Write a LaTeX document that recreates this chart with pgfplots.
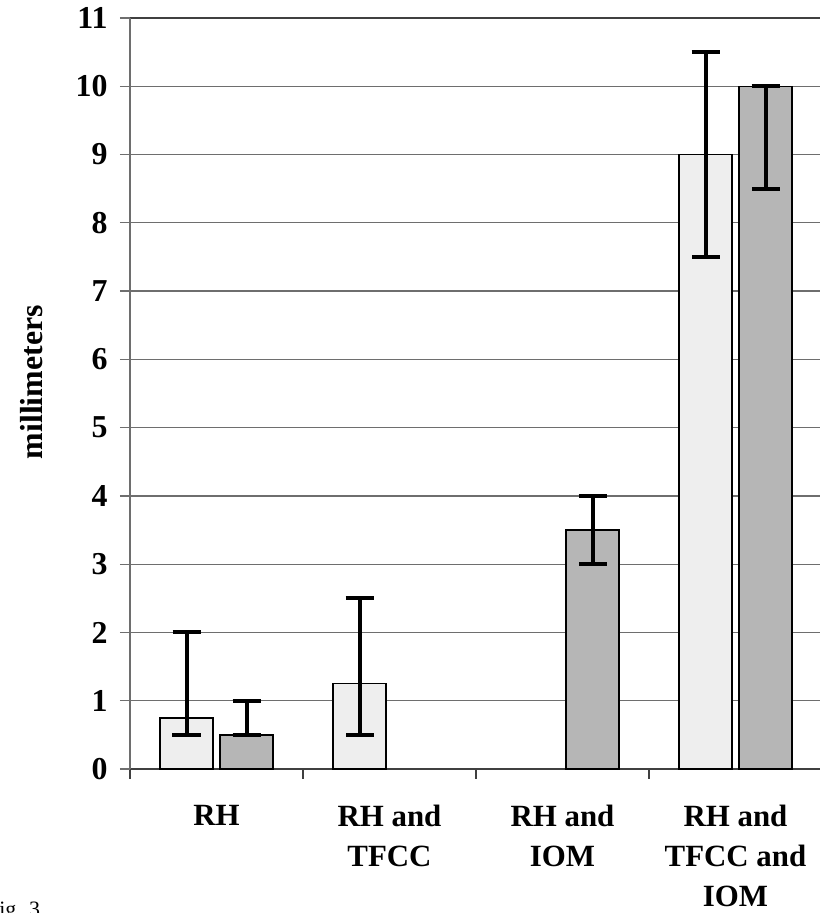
\documentclass[border=0pt]{standalone}
\usepackage{fontspec}
\setmainfont{Liberation Serif}
\usepackage{pgfplots}
\pgfplotsset{compat=1.18}
\definecolor{barlight}{HTML}{EEEEEE}
\definecolor{bardark}{HTML}{B6B6B6}
\definecolor{gridgray}{HTML}{6E6E6E}

\begin{document}
\begin{tikzpicture}
\useasboundingbox (0,0) rectangle (820bp,913bp);
\begin{axis}[
    at={(130bp,144bp)}, anchor=south west,
    scale only axis,
    width=692bp, height=751bp,
    ybar, bar width=53bp,
    xmin=0.5, xmax=4.5,
    ymin=0, ymax=11,
    ytick={0,1,...,11},
    xtick={1,2,3,4},
    xticklabels={RH, {RH and\\TFCC}, {RH and\\IOM}, {RH and\\TFCC and\\IOM}},
    minor xtick={0.5,1.5,2.5,3.5},
    major x tick style={draw=none},
    minor x tick style={draw=black!75, line width=1.2bp},
    minor tick length=10bp,
    major tick length=10bp,
    tick align=outside,
    xtick pos=bottom, ytick pos=left,
    y tick style={draw=gridgray, line width=1.2bp},
    ymajorgrids,
    grid style={draw=gridgray, line width=1.2bp},
    axis line style={-},
    separate axis lines,
    every outer x axis line/.style={draw=black!75, line width=1.2bp},
    every outer y axis line/.style={draw=gridgray, line width=1.2bp},
    /pgf/number format/assume math mode=true,
    yticklabel style={font=\fontsize{32}{38}\selectfont\bfseries, xshift=-9bp},
    xticklabel style={font=\fontsize{31}{40}\selectfont\bfseries, align=center,
        anchor=north, inner sep=0pt, yshift=-26bp},
    ylabel={millimeters},
    every axis y label/.style={at={(axis description cs:-0.126,0.515)}, rotate=90,
        anchor=base, font=\fontsize{32}{38}\selectfont\bfseries},
    clip=false,
]
\addplot[fill=barlight, draw=black, line width=1.5bp, bar shift=-30bp,
    error bars/.cd, y dir=both, y explicit,
    error bar style={line width=4bp, black},
    error mark options={rotate=90, mark size=14bp, line width=4bp, black}]
    coordinates {
    (1,0.75) += (0,1.25) -= (0,0.25)
    (2,1.25) += (0,1.25) -= (0,0.75)
    (4,9.0) += (0,1.5) -= (0,1.5)
};
\addplot[fill=bardark, draw=black, line width=1.5bp, bar shift=30bp,
    error bars/.cd, y dir=both, y explicit,
    error bar style={line width=4bp, black},
    error mark options={rotate=90, mark size=14bp, line width=4bp, black}]
    coordinates {
    (1,0.5) += (0,0.5) -= (0,0)
    (3,3.5) += (0,0.5) -= (0,0.5)
    (4,10.0) += (0,0) -= (0,1.5)
};
\end{axis}
\node[anchor=base west, inner sep=0pt, font=\fontsize{22}{26}\selectfont] at (-13bp,-3bp) {Fig. 3};
\end{tikzpicture}
\end{document}
